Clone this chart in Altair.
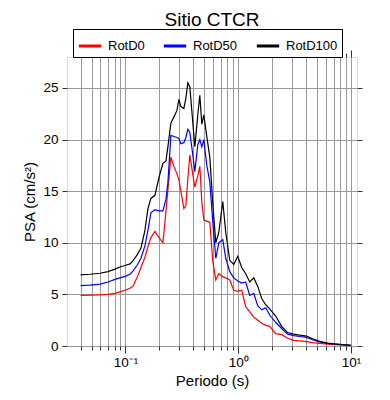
import altair as alt
import pandas as pd

periods = [0.040, 0.0485, 0.0595, 0.070, 0.0807, 0.0894, 0.099, 0.1096, 0.1165, 0.1264,
           0.1372, 0.1488, 0.1581, 0.1681, 0.1824, 0.1979, 0.2147, 0.2283, 0.2377, 0.2527,
           0.2687, 0.2856, 0.2975, 0.3099, 0.3294, 0.3431, 0.3573, 0.3722, 0.3957, 0.4121,
           0.4381, 0.4563, 0.4753, 0.4950, 0.5262, 0.5596, 0.5947, 0.6323, 0.6721, 0.7291,
           0.7750, 0.8410, 0.9125, 0.990, 1.074, 1.165, 1.264, 1.372, 1.488, 1.614,
           1.752, 1.900, 2.147, 2.427, 2.743, 3.099, 3.501, 4.039, 4.563, 5.264,
           6.194, 7.292, 8.760, 10.0]

rotd100 = [6.9, 6.95, 7.05, 7.2, 7.45, 7.65, 7.8, 7.95, 8.25, 8.8,
           9.5, 11.2, 13.3, 14.3, 14.6, 16.3, 17.7, 17.9, 19.3, 21.6,
           22.2, 22.8, 23.9, 23.2, 23.0, 24.0, 25.5, 25.1, 21.6, 19.3,
           22.4, 24.3, 21.5, 22.4, 20.3, 18.3, 13.8, 10.0, 11.0, 14.0,
           11.0, 8.3, 7.9, 8.7, 7.6, 7.0, 6.2, 6.6, 5.8, 4.6,
           4.0, 3.6, 2.9, 1.9, 1.3, 1.15, 1.05, 0.95, 0.7, 0.45,
           0.28, 0.2, 0.12, 0.07]

rotd50 = [5.85, 5.9, 6.0, 6.2, 6.45, 6.6, 6.75, 6.95, 7.25, 7.8,
          8.5, 9.7, 11.2, 12.9, 13.2, 13.1, 13.1, 14.2, 15.8, 20.4,
          20.3, 20.2, 20.1, 19.6, 19.7, 20.2, 21.0, 20.7, 18.5, 16.9,
          19.5, 20.0, 19.3, 20.0, 17.5, 15.9, 12.0, 8.5, 10.0, 10.3,
          8.5, 7.2, 6.6, 6.3, 6.1, 6.2, 4.9, 5.1, 3.9, 3.5,
          3.7, 3.0, 2.3, 1.7, 1.15, 1.0, 0.92, 0.84, 0.6, 0.4,
          0.25, 0.17, 0.1, 0.06]

rotd0 = [4.9, 4.92, 4.95, 5.0, 5.1, 5.25, 5.4, 5.6, 5.8, 6.6,
         7.6, 8.6, 9.6, 10.5, 11.1, 10.5, 10.0, 13.0, 15.1, 18.3,
         17.4, 16.7, 16.1, 15.0, 13.3, 13.6, 16.2, 18.5, 16.6, 15.4,
         16.5, 17.4, 14.0, 12.2, 12.1, 12.0, 8.2, 6.4, 7.0, 6.7,
         6.6, 6.4, 5.4, 5.3, 5.4, 3.8, 3.3, 2.8, 2.5, 2.2,
         2.0, 1.9, 1.2, 1.1, 0.75, 0.55, 0.5, 0.42, 0.33, 0.25,
         0.18, 0.13, 0.09, 0.05]

series_names = ["RotD0", "RotD50", "RotD100"]
series_colors = ["#ff0000", "#0000ff", "#000000"]

x_ticks = [0.04, 0.05, 0.06, 0.07, 0.08, 0.09,
           0.1, 0.2, 0.3, 0.4, 0.5, 0.6, 0.7, 0.8, 0.9,
           1, 2, 3, 4, 5, 6, 7, 8, 9, 10]
y_ticks = [0, 5, 10, 15, 20, 25]

rows = []
for name, vals in zip(series_names, [rotd0, rotd50, rotd100]):
    for p, v in zip(periods, vals):
        rows.append({"period": p, "psa": v, "comp": name})
df = pd.DataFrame(rows)

FONT = "Liberation Sans"
major_test = "datum.value == 0.1 || datum.value == 1 || datum.value == 10"
label_expr = ("datum.value == 0.1 ? '10\u207b\u00b9' : datum.value == 1 ? '10\u2070' : "
              "datum.value == 10 ? '10\u00b9' : ''")

xscale = alt.Scale(type="log", domain=[0.0303, 11.3], nice=False)
yscale = alt.Scale(domain=[0, 28], nice=False)

lines = alt.Chart(df).mark_line(strokeWidth=1.2).encode(
    x=alt.X("period:Q", scale=xscale, title="Periodo (s)",
            axis=alt.Axis(values=x_ticks, labelExpr=label_expr, grid=True,
                          gridColor="#9a9a9a", gridWidth=1, domain=False,
                          tickColor="#333333", tickWidth=1,
                          tickSize={"condition": {"test": major_test, "value": 7}, "value": 4},
                          labelFont=FONT, labelFontSize=13.5, labelColor="black",
                          labelPadding=2, labelFlush=False, labelOverlap=False,
                          titleFont=FONT, titleFontSize=15, titleFontWeight="normal",
                          titleColor="black", titlePadding=5)),
    y=alt.Y("psa:Q", scale=yscale, title="PSA (cm/s\u00b2)",
            axis=alt.Axis(values=y_ticks, grid=True, gridColor="#9a9a9a", gridWidth=1,
                          domain=False, tickColor="#333333", tickSize=5, tickWidth=1,
                          labelFont=FONT, labelFontSize=13.5, labelColor="black",
                          labelPadding=4, titleFont=FONT, titleFontSize=15,
                          titleFontWeight="normal", titleColor="black", titlePadding=5)),
    color=alt.Color("comp:N", scale=alt.Scale(domain=series_names, range=series_colors),
                    legend=alt.Legend(orient="none", legendX=6, legendY=-28,
                                      direction="horizontal", title=None,
                                      symbolType="stroke", symbolSize=500,
                                      symbolStrokeWidth=3, labelFont=FONT,
                                      labelFontSize=13, labelColor="black",
                                      labelOffset=5, columnPadding=12,
                                      strokeColor="black", fillColor="white",
                                      padding=4)),
)

mirror = alt.Chart(df).mark_line(opacity=0).encode(
    x=alt.X("period:Q", scale=xscale, title=None,
            axis=alt.Axis(orient="top", values=x_ticks, labels=False, grid=False,
                          domain=False, tickColor="#333333", tickWidth=1,
                          tickSize={"condition": {"test": major_test, "value": 7}, "value": 4})),
    y=alt.Y("psa:Q", scale=yscale, title=None,
            axis=alt.Axis(orient="right", values=y_ticks, labels=False, grid=False,
                          domain=False, tickColor="#333333", tickSize=5, tickWidth=1)),
)

chart = alt.layer(mirror, lines).resolve_axis(x="independent", y="independent").properties(
    width=290, height=289,
    padding={"left": 59, "top": 49, "right": 25, "bottom": 46},
    autosize=alt.AutoSizeParams(type="none"),
    title=alt.TitleParams("Sitio CTCR", font=FONT, fontSize=19, fontWeight="normal",
                          color="black", anchor="middle", offset=-1),
).configure_view(stroke="#222222", strokeWidth=2).configure(background="white")

chart.save("out.html", embed_options={"renderer": "svg", "actions": False})
